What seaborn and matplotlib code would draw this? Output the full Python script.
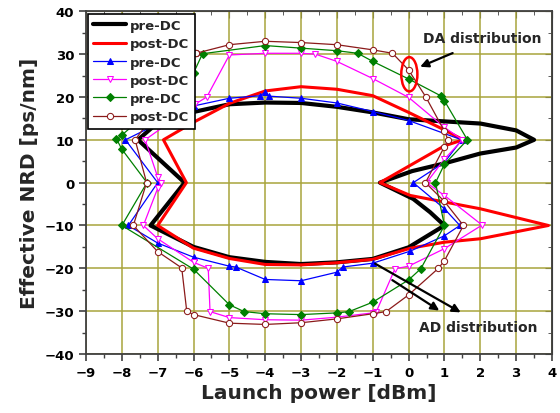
import numpy as np
import pandas as pd
import matplotlib
matplotlib.use('Agg')
import matplotlib.pyplot as plt
from matplotlib.patches import Ellipse
import seaborn as sns

# loops (launch power [dBm], effective NRD [ps/nm])
black_x = [-6.0, -5.0, -4.0, -3.0, -2.0, -1.0, 0.0, 1.0, 2.0, 3.0, 3.5, 3.0, 2.0, 1.0, 0.1, -0.8,
           0.13, 0.6, 1.0, 0.0, -1.0, -2.0, -3.0, -4.0, -5.0, -6.0, -7.2, -6.25, -7.55, -7.0, -6.0]
black_y = [16.5, 18.3, 18.7, 18.6, 17.7, 16.4, 14.8, 14.3, 13.8, 12.2, 10.0, 8.2, 6.8, 4.5, 2.7, 0.0,
           -3.8, -6.9, -10.0, -15.1, -17.8, -18.6, -19.0, -18.5, -17.4, -15.0, -10.0, 0.0, 10.0, 14.0, 16.5]

red_x = [-6.0, -5.0, -4.0, -3.0, -2.0, -1.0, 0.0, 1.0, 1.52, 1.0, -0.8, 0.05, 2.0, 3.9, 2.0, 1.0,
         0.05, -1.0, -2.0, -3.0, -4.0, -5.0, -6.0, -7.0, -6.2, -6.84, -6.0]
red_y = [14.1, 18.5, 21.4, 22.4, 21.8, 20.3, 16.4, 12.3, 10.0, 8.6, 0.0, -3.0, -6.1, -10.0, -13.1, -13.9,
         -15.3, -17.9, -18.7, -19.2, -19.1, -17.7, -15.3, -10.0, 0.0, 10.0, 14.1]

blue_x = [-6.0, -5.0, -4.15, -4.0, -3.9, -3.0, -2.0, -1.0, 0.0, 1.48, 1.0, 0.13, 1.0, 1.43, 1.0, 0.04,
          -1.0, -1.84, -2.0, -3.0, -4.0, -4.82, -5.0, -6.0, -7.0, -7.82, -7.0, -7.9, -6.0]
blue_y = [17.9, 19.7, 20.3, 21.1, 20.2, 19.7, 18.6, 16.6, 14.5, 10.0, 4.75, 0.0, -6.1, -10.0, -12.4, -16.0,
          -18.8, -19.7, -20.9, -22.9, -22.6, -19.7, -19.5, -17.4, -14.1, -10.0, 0.0, 10.0, 17.9]

pink_x = [-5.96, -5.63, -5.0, -4.0, -3.0, -2.6, -2.0, -1.0, 0.0, 1.0, 1.5, 1.0, 0.5, 1.0, 2.05, 1.0,
          0.0, -0.38, -0.9, -1.0, -2.0, -3.0, -4.0, -5.0, -5.54, -5.59, -6.0, -7.0, -7.4, -7.0, -6.9,
          -7.0, -7.35, -5.96]
pink_y = [18.3, 20.0, 29.8, 30.2, 30.2, 30.0, 28.3, 24.3, 19.9, 12.9, 10.0, 5.5, 0.0, -3.0, -9.9, -15.4,
          -19.5, -20.1, -30.1, -30.4, -31.4, -32.1, -32.0, -31.5, -30.1, -20.0, -18.6, -13.1, -10.0, -1.3, 0.0,
          1.3, 10.0, 18.3]

green_x = [-6.0, -5.75, -4.0, -3.0, -2.0, -1.42, -1.0, 0.0, 0.89, 1.0, 1.64, 1.0, 0.75, 1.0, 0.34, 0.0,
           -1.0, -1.66, -2.0, -3.0, -4.0, -4.59, -5.0, -6.0, -8.0, -7.3, -8.0, -8.15, -8.0, -6.0]
green_y = [25.6, 30.1, 32.0, 31.4, 30.8, 30.2, 28.3, 24.2, 20.3, 19.1, 10.0, 4.3, 0.0, -10.0, -20.1, -22.7,
           -27.9, -30.1, -30.4, -30.8, -30.6, -30.1, -28.5, -20.2, -10.0, 0.0, 7.8, 10.2, 11.1, 25.6]

brown_x = [-5.93, -5.0, -4.0, -3.0, -2.0, -1.0, -0.45, 0.0, 0.48, 1.0, 1.1, 1.0, 0.47, 1.0, 1.53, 1.0,
           0.83, 0.0, -0.63, -1.0, -2.0, -3.0, -4.0, -5.0, -6.0, -6.19, -6.33, -7.0, -7.68, -7.31, -7.63,
           -6.05, -5.93]
brown_y = [30.2, 32.2, 33.0, 32.7, 32.2, 31.0, 30.2, 26.3, 20.0, 12.0, 10.0, 8.4, 0.0, -4.4, -10.0, -18.2,
           -20.0, -26.2, -30.1, -30.6, -31.8, -32.7, -33.1, -32.8, -30.8, -30.0, -19.9, -16.1, -10.0, 0.0, 10.0,
           27.8, 30.2]

sns.set_style('ticks')
plt.rcParams['font.family'] = ['DejaVu Sans']
plt.rcParams['font.weight'] = 'bold'

fig, ax = plt.subplots(figsize=(5.6, 4.14), dpi=100)
fig.subplots_adjust(left=0.1536, right=0.9857, top=0.9703, bottom=0.1425)

series = [
    (black_x, black_y, dict(color='black', lw=3.0)),
    (red_x, red_y, dict(color='#ff0000', lw=2.2)),
    (blue_x, blue_y, dict(color='#0000ff', lw=0.9, marker='^', markersize=5, mfc='#0000ff', mec='#0000ff')),
    (pink_x, pink_y, dict(color='#ff00ff', lw=0.9, marker='v', markersize=5, mfc='white', mec='#ff00ff')),
    (green_x, green_y, dict(color='#008000', lw=0.9, marker='D', markersize=3.8, mfc='#008000', mec='#008000')),
    (brown_x, brown_y, dict(color='#8b1a1a', lw=0.9, marker='o', markersize=4.5, mfc='white', mec='#8b1a1a')),
]
labels = ['pre-DC', 'post-DC', 'pre-DC', 'post-DC', 'pre-DC', 'post-DC']

for (xs, ys, kw), lab in zip(series, labels):
    df = pd.DataFrame({'x': xs, 'y': ys})
    sns.lineplot(data=df, x='x', y='y', sort=False, estimator=None, ax=ax, label=lab, **kw)

ax.set_xlim(-9, 4)
ax.set_ylim(-40, 40)
ax.set_xticks(np.arange(-9, 5, 1))
ax.set_yticks(np.arange(-40, 41, 10))
ax.set_xticks(np.arange(-8.5, 4, 1), minor=True)
ax.set_yticks(np.arange(-35, 40, 10), minor=True)
ax.grid(True, which='major', color='#a8a43c', lw=1.1)
ax.set_axisbelow(True)

for s in ax.spines.values():
    s.set_color('#404040')
    s.set_linewidth(1.3)
ax.tick_params(which='both', direction='out', top=False, right=False, colors='#404040',
               labelcolor='black', labelsize=9.5)
ax.tick_params(which='major', length=5, width=1.2)
ax.tick_params(which='minor', length=3, width=1.0)
sec_x = ax.secondary_xaxis('top')
sec_x.set_xticks(np.arange(-9, 5, 1))
sec_x.set_xticks(np.arange(-8.5, 4, 1), minor=True)
sec_x.tick_params(which='both', direction='in', labeltop=False, colors='#404040')
sec_x.tick_params(which='major', length=5)
sec_x.tick_params(which='minor', length=3)
sec_y = ax.secondary_yaxis('right')
sec_y.set_yticks(np.arange(-40, 41, 10))
sec_y.set_yticks(np.arange(-35, 40, 10), minor=True)
sec_y.tick_params(which='both', direction='in', labelright=False, colors='#404040')
sec_y.tick_params(which='major', length=5)
sec_y.tick_params(which='minor', length=3)

ax.set_xlabel('Launch power [dBm]', fontsize=14.5, fontweight='bold', labelpad=3)
ax.set_ylabel('Effective NRD [ps/nm]', fontsize=14.5, fontweight='bold', labelpad=4)

leg = ax.legend(loc='upper left', bbox_to_anchor=(0.004, 0.993), borderaxespad=0, fontsize=9.5,
                handlelength=2.5, labelspacing=0.4, handletextpad=0.3, borderpad=0.4,
                fancybox=False, framealpha=1, edgecolor='black')
leg.get_frame().set_linewidth(1.2)
leg.set_zorder(10)

# annotations
ax.add_patch(Ellipse((0.02, 25.3), 0.45, 8.0, fill=False, edgecolor='#ff0000', lw=1.8, zorder=5))
ax.annotate('', xy=(0.25, 26.8), xytext=(1.3, 30.5),
            arrowprops=dict(arrowstyle='-|>', color='black', lw=1.6, mutation_scale=12))
ax.text(2.05, 33.7, 'DA distribution', ha='center', va='center', fontsize=10, fontweight='bold')
ax.annotate('', xy=(1.52, -30.6), xytext=(-1.0, -18.6),
            arrowprops=dict(arrowstyle='-|>', color='black', lw=1.6, mutation_scale=12))
ax.annotate('', xy=(0.92, -30.2), xytext=(-0.52, -22.4),
            arrowprops=dict(arrowstyle='-|>', color='black', lw=1.6, mutation_scale=12))
ax.text(1.93, -33.6, 'AD distribution', ha='center', va='center', fontsize=10, fontweight='bold')

plt.savefig('out.png', dpi=100)
